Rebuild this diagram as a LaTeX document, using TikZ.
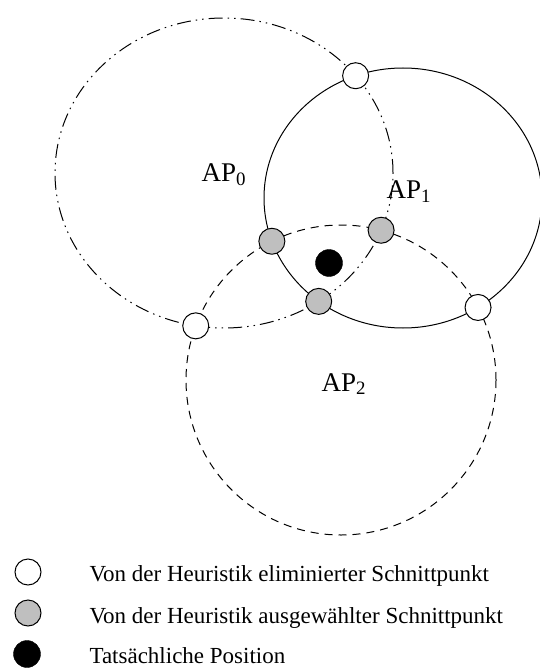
\documentclass[tikz,border=0pt]{standalone}
\usepackage{fontspec}
\setmainfont{Liberation Serif}
\usetikzlibrary{intersections}

\begin{document}
\begin{tikzpicture}[x=1pt, y=-1pt,
        kreis/.style={line width=1pt},
        weg/.style={draw, circle, minimum size=26pt, inner sep=0pt, line width=1pt, fill=white},
        wahl/.style={weg, fill=gray!50},
        istpos/.style={draw, circle, minimum size=27pt, inner sep=0pt, fill=black},
        ap/.style={anchor=base west, font=\fontsize{27}{30}\selectfont},
        leg/.style={anchor=base west, font=\fontsize{23}{26}\selectfont}]
        \useasboundingbox (0,0) rectangle (539,668);
        \coordinate (M0) at (224,173);
        \coordinate (M1) at (403,198);
        \coordinate (M2) at (341,380);
        \draw[kreis, name path=ap0, dash pattern=on 14pt off 5pt on 1.5pt off 5pt on 1.5pt off 5pt] (M0) ellipse [x radius=169pt, y radius=155pt];
        \draw[kreis, name path=ap1] (M1) ellipse [x radius=139pt, y radius=130pt];
        \draw[kreis, name path=ap2, dash pattern=on 8pt off 6pt] (M2) circle [radius=155pt];
        \path[name intersections={of=ap0 and ap1, by={S01a,S01b}}];
        \path[name intersections={of=ap0 and ap2, by={S02a,S02b}}];
        \path[name intersections={of=ap1 and ap2, by={S12a,S12b}}];
        \node[weg] (w01) at (S01a) {}; \node[wahl] (g01) at (S01b) {};
        \node[weg] (w02) at (S02a) {}; \node[wahl] (g02) at (S02b) {};
        \node[weg] (w12) at (S12b) {}; \node[wahl] (g12) at (S12a) {};
        \node[istpos] (P) at (329,263) {};
        \node[ap] (l0) at (198,182) {AP\textsubscript{0}};
        \node[ap] (l1) at (383,199) {AP\textsubscript{1}};
        \node[ap] (l2) at (318,391) {AP\textsubscript{2}};
        \node[weg] (kw) at (28,572) {}; \node[leg] (tw) at (86,581) {Von der Heuristik eliminierter Schnittpunkt};
        \node[wahl] (kg) at (28,613) {}; \node[leg] (tg) at (86,623) {Von der Heuristik ausgewählter Schnittpunkt};
        \node[istpos] (kp) at (27,654) {}; \node[leg] (tp) at (86,663) {Tatsächliche Position};
    \end{tikzpicture}
\end{document}
